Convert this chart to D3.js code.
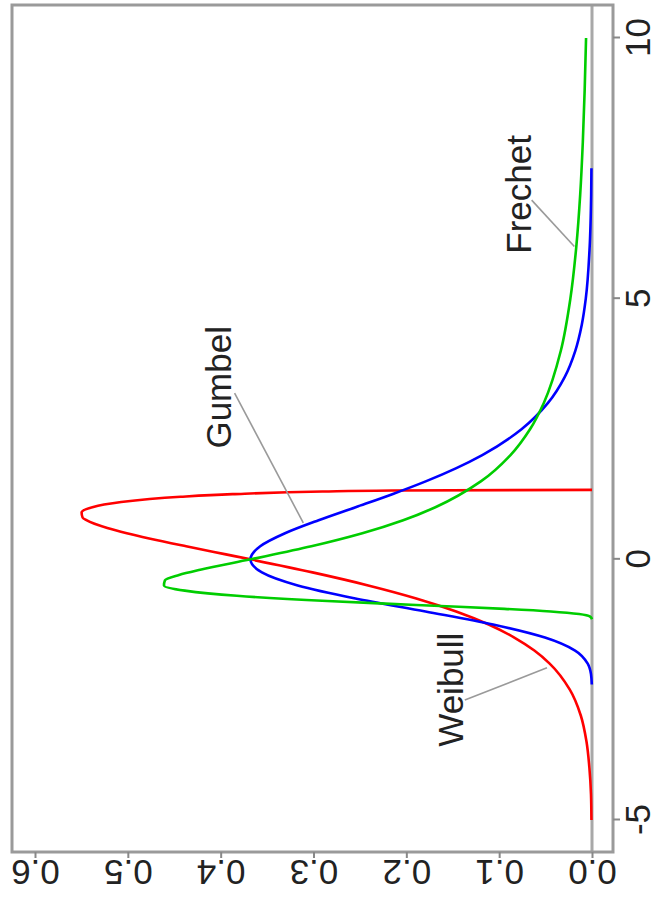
<!DOCTYPE html>
<html>
<head>
<meta charset="utf-8">
<script src="https://cdn.jsdelivr.net/npm/d3@7"></script>
<style>
  html, body { margin: 0; padding: 0; background: #fff; }
  svg { display: block; }
  text { font-family: Arial, "Liberation Sans", sans-serif; fill: #222; }
</style>
</head>
<body>
<svg id="chart" width="660" height="899"></svg>
<script>
// Extreme value densities (location 0, scale 1): [x, density]
const weibull = [
  [-5, 0.0006], [-4.5, 0.0011], [-4, 0.0028], [-3.5, 0.0059], [-3, 0.0120],
  [-2.5, 0.0239], [-2, 0.0456], [-1.75, 0.0621], [-1.5, 0.0837], [-1.25, 0.1113],
  [-1, 0.1463], [-0.75, 0.1893], [-0.5, 0.2411], [-0.25, 0.3011], [0, 0.3679],
  [0.1, 0.3957], [0.25, 0.4372], [0.4, 0.4770], [0.5, 0.5011], [0.6, 0.5221],
  [0.75, 0.5446], [0.8, 0.5487], [0.9, 0.5498], [1.0, 0.5382], [1.05, 0.5256],
  [1.1, 0.5072], [1.2, 0.4431], [1.25, 0.3872], [1.3, 0.2903], [1.32, 0.2154],
  [1.333, 0]
];
const gumbel = [
  [-2.4, 0.0002], [-2.2, 0.0011], [-2, 0.0046], [-1.75, 0.0182], [-1.5, 0.0507],
  [-1.25, 0.1065], [-1, 0.1794], [-0.75, 0.2549], [-0.5, 0.3170], [-0.25, 0.3556],
  [0, 0.3679], [0.25, 0.3574], [0.5, 0.3307], [0.75, 0.2945], [1, 0.2546],
  [1.25, 0.2151], [1.5, 0.1785], [1.75, 0.1461], [2, 0.1182], [2.5, 0.0756],
  [3, 0.0474], [3.5, 0.0293], [4, 0.0180], [4.5, 0.0110], [5, 0.0067],
  [6, 0.0025], [7, 0.0009], [7.5, 0.0006]
];
const frechet = [
  [-1.15, 0.0000], [-1.1, 0.0020], [-1.05, 0.0139], [-1, 0.0444], [-0.95, 0.0943],
  [-0.9, 0.1568], [-0.85, 0.2228], [-0.8, 0.2851], [-0.7, 0.3825], [-0.6, 0.4386],
  [-0.5, 0.4611], [-0.4, 0.4600], [-0.3, 0.4449], [-0.2, 0.4220], [0, 0.3679],
  [0.25, 0.3023], [0.5, 0.2474], [0.75, 0.2034], [1, 0.1687], [1.5, 0.1194],
  [2, 0.0878], [2.5, 0.0666], [3, 0.0519], [4, 0.0336], [5, 0.0233],
  [6, 0.0169], [7, 0.0127], [8, 0.0099], [9, 0.0079], [10, 0.0064]
];

const xTicks = [-5, 0, 5, 10];
const yTicks = [0.0, 0.1, 0.2, 0.3, 0.4, 0.5, 0.6];

// curve labels: text position and leader line (from, to), in data units
const labelNames  = ["Weibull", "Gumbel", "Frechet"];
const labelPos    = [[-2.5, 0.152], [3.3, 0.402], [7.0, 0.079]];
const leaderFrom  = [[-2.70, 0.137], [3.19, 0.385], [6.89, 0.065]];
const leaderTo    = [[-2.08, 0.0485], [0.70, 0.311], [6.0, 0.019]];

const series = [
  { name: "Weibull", data: weibull, color: "#ff0000" },
  { name: "Gumbel",  data: gumbel,  color: "#0000ff" },
  { name: "Frechet", data: frechet, color: "#00cd00" }
];

const W = 899, H = 660;          // the plot is laid out lying on its side
const svg = d3.select("#chart");
const g = svg.append("g").attr("transform", `translate(0,${W}) rotate(-90)`);

const x = d3.scaleLinear().domain([-5, 10]).range([79, 861]);
const y = d3.scaleLinear().domain([0, 0.6]).range([592, 35]);

const box = { left: 47, right: 894, top: 12, bottom: 613 };
const fontSize = 35;

// zero density reference line
g.append("line")
  .attr("x1", box.left).attr("x2", box.right)
  .attr("y1", y(0)).attr("y2", y(0))
  .attr("stroke", "#a8a8a8").attr("stroke-width", 3);

// density curves
const line = d3.line()
  .x(d => x(d[0]))
  .y(d => y(d[1]))
  .curve(d3.curveMonotoneX);

g.selectAll("path.curve")
  .data(series)
  .join("path")
  .attr("class", "curve")
  .attr("d", d => line(d.data))
  .attr("fill", "none")
  .attr("stroke", d => d.color)
  .attr("stroke-width", 2.6)
  .attr("stroke-linejoin", "round");

// leader lines
g.selectAll("line.leader")
  .data(labelNames)
  .join("line")
  .attr("class", "leader")
  .attr("x1", (d, i) => x(leaderFrom[i][0]))
  .attr("y1", (d, i) => y(leaderFrom[i][1]))
  .attr("x2", (d, i) => x(leaderTo[i][0]))
  .attr("y2", (d, i) => y(leaderTo[i][1]))
  .attr("stroke", "#9a9a9a")
  .attr("stroke-width", 1.6);

// curve labels
g.selectAll("text.curve-label")
  .data(labelNames)
  .join("text")
  .attr("class", "curve-label")
  .attr("x", (d, i) => x(labelPos[i][0]))
  .attr("y", (d, i) => y(labelPos[i][1]))
  .attr("dy", "0.36em")
  .attr("text-anchor", "middle")
  .attr("font-size", fontSize)
  .text(d => d);

// plot frame
g.append("rect")
  .attr("x", box.left).attr("y", box.top)
  .attr("width", box.right - box.left).attr("height", box.bottom - box.top)
  .attr("fill", "none")
  .attr("stroke", "#9a9a9a")
  .attr("stroke-width", 3);

// x axis
const xAxis = g.append("g")
  .attr("transform", `translate(0,${box.bottom})`)
  .call(d3.axisBottom(x).tickValues(xTicks).tickFormat(d3.format("d"))
    .tickSizeInner(7).tickSizeOuter(0).tickPadding(5));
xAxis.select(".domain").remove();
xAxis.selectAll(".tick line").attr("stroke", "#888").attr("stroke-width", 2);
xAxis.selectAll(".tick text")
  .attr("font-size", fontSize)
  .attr("font-family", "Arial, 'Liberation Sans', sans-serif")
  .attr("fill", "#222")
  .text(d => d < 0 ? "-" + Math.abs(d) : String(d));

// y axis, labels parallel to the axis
const yAxis = g.append("g")
  .attr("transform", `translate(${box.left},0)`)
  .call(d3.axisLeft(y).tickValues(yTicks).tickFormat(d3.format(".1f"))
    .tickSizeInner(6).tickSizeOuter(0));
yAxis.select(".domain").remove();
yAxis.selectAll(".tick line").attr("stroke", "#888").attr("stroke-width", 2);
yAxis.selectAll(".tick text")
  .attr("x", null).attr("dy", null)
  .attr("transform", "translate(-8,0) rotate(-90)")
  .attr("text-anchor", "middle")
  .attr("font-size", fontSize)
  .attr("font-family", "Arial, 'Liberation Sans', sans-serif")
  .attr("fill", "#222");
</script>
</body>
</html>
